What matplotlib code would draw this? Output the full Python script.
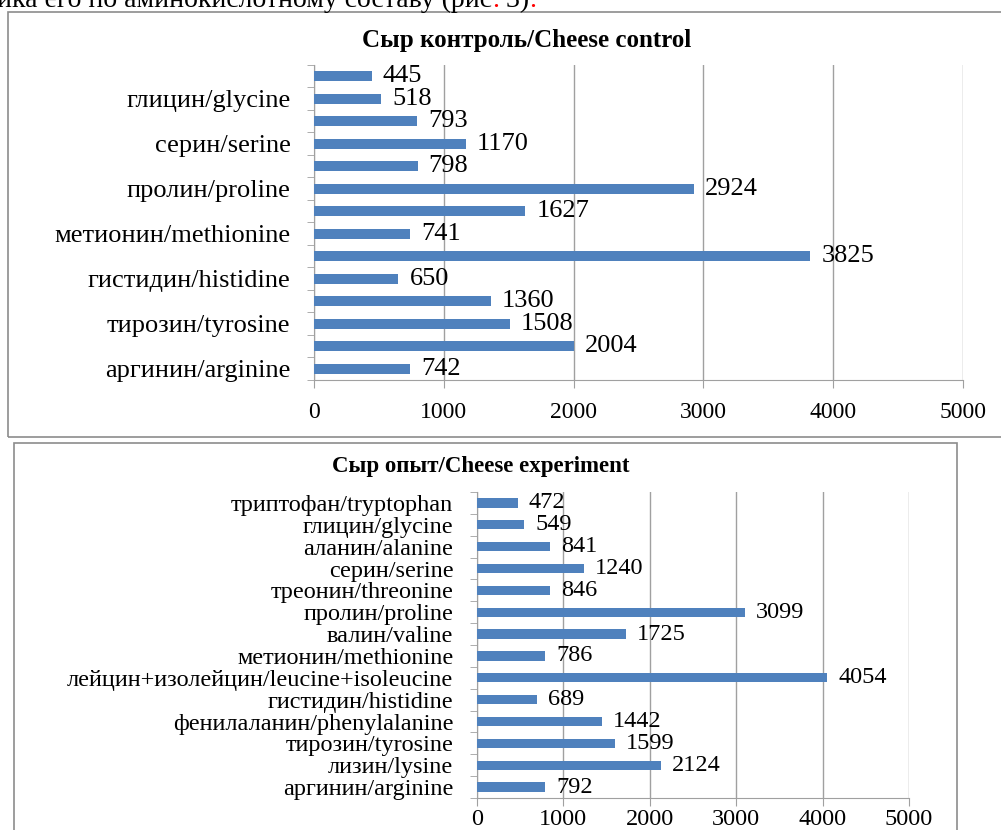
import matplotlib
matplotlib.use('Agg')
import matplotlib.pyplot as plt
from matplotlib.patches import Rectangle
import numpy as np

# amino acids, listed bottom -> top as in the chart
categories = ['аргинин/arginine', 'лизин/lysine', 'тирозин/tyrosine',
              'фенилаланин/phenylalanine', 'гистидин/histidine',
              'лейцин+изолейцин/leucine+isoleucine', 'метионин/methionine',
              'валин/valine', 'пролин/proline', 'треонин/threonine',
              'серин/serine', 'аланин/alanine', 'глицин/glycine',
              'триптофан/tryptophan']
control = [742, 2004, 1508, 1360, 650, 3825, 741, 1627, 2924, 798, 1170, 793, 518, 445]
experiment = [792, 2124, 1599, 1442, 689, 4054, 786, 1725, 3099, 846, 1240, 841, 549, 472]
x_ticks = [0, 1000, 2000, 3000, 4000, 5000]

title_control = 'Сыр контроль/Cheese control'
title_experiment = 'Сыр опыт/Cheese experiment'

plt.rcParams['font.family'] = ['Liberation Serif', 'DejaVu Serif']

W, H = 1001, 830
BAR = '#4F81BD'
GRID = '#a0a0a0'
fig = plt.figure(figsize=(W / 100, H / 100), dpi=100)


def px_axes(left, right, top, bottom):
    return fig.add_axes([left / W, 1 - bottom / H, (right - left) / W, (bottom - top) / H])


def panel(ax, values, label_step, lab_size, val_size, tick_size, tick_pad):
    y = np.arange(len(values))
    ax.barh(y, values, height=0.43, color=BAR, zorder=3)
    ax.set_xlim(0, 5000)
    ax.set_ylim(-0.5, len(values) - 0.5)
    ax.set_xticks(x_ticks)
    ax.set_xticklabels([str(t) for t in x_ticks], fontsize=tick_size)
    ax.tick_params(axis='x', length=6, color=GRID, pad=tick_pad)
    # excel skips every other category label when they don't fit
    shown = y[::label_step]
    ax.set_yticks(shown)
    ax.set_yticklabels([categories[i] for i in shown], fontsize=lab_size)
    ax.set_yticks(np.arange(len(values) + 1) - 0.5, minor=True)
    ax.tick_params(axis='y', which='major', length=0, pad=17)
    ax.tick_params(axis='y', which='minor', length=5, color=GRID)
    ax.grid(axis='x', color=GRID, linewidth=1.0, zorder=0)
    for s in ['top', 'right']:
        ax.spines[s].set_visible(False)
    for s in ['left', 'bottom']:
        ax.spines[s].set_color(GRID)
    for yi, v in zip(y, values):
        ax.annotate(str(v), (v, yi), xytext=(8, 0), textcoords='offset points',
                    va='center', ha='left', fontsize=val_size, zorder=4)


# top chart (control)
ax1 = px_axes(314, 963, 65, 380)
panel(ax1, control, 2, 19, 19, 17, 10)
fig.text(527 / W, 1 - 41 / H, title_control, ha='center', va='center',
         fontsize=18, fontweight='bold')

# bottom chart (experiment)
ax2 = px_axes(477, 909, 492, 798)
panel(ax2, experiment, 1, 17.5, 17.5, 17.5, 2)
fig.text(481 / W, 1 - 466 / H, title_experiment, ha='center', va='center',
         fontsize=16.5, fontweight='bold')

# chart frames
fig.add_artist(Rectangle((8 / W, 1 - 437 / H), 1.2, (437 - 12) / H,
                         transform=fig.transFigure, fill=False,
                         edgecolor='#8c8c8c', linewidth=1.2))
fig.add_artist(Rectangle((14 / W, 1 - 900 / H), (957 - 14) / W, (900 - 443) / H,
                         transform=fig.transFigure, fill=False,
                         edgecolor='#8c8c8c', linewidth=1.2))

# cut-off line of the surrounding article text, with red dots as in the source
renderer = fig.canvas.get_renderer()
x = -3
for part, col in [('ика его по аминокислотному составу (рис', 'black'), ('.', 'red'),
                  (' 3)', 'black'), ('.', 'red')]:
    t = fig.text(x / W, 1 - 7 / H, part, fontsize=20, va='baseline', ha='left', color=col)
    x = t.get_window_extent(renderer).x1

fig.savefig('out.png', dpi=100)
